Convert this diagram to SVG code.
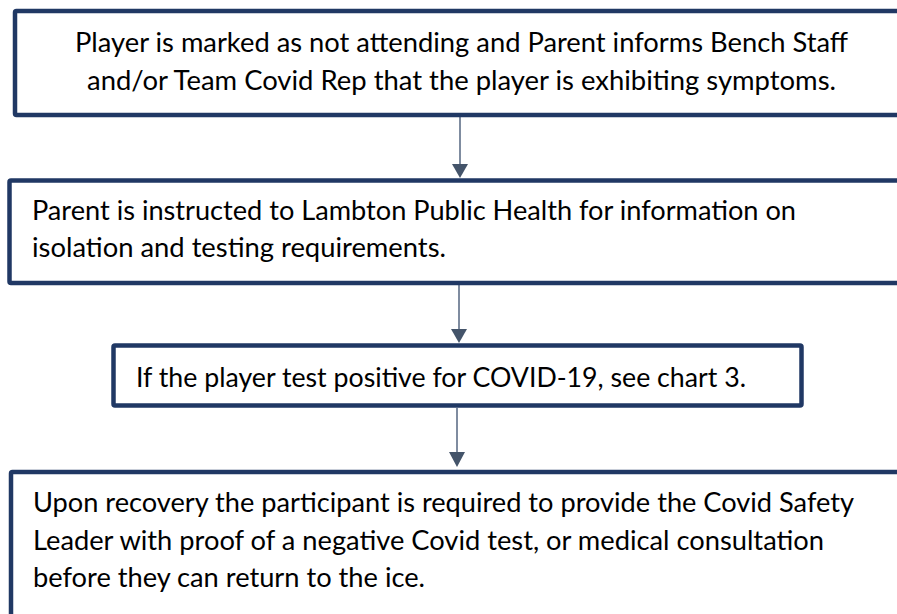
<svg xmlns="http://www.w3.org/2000/svg" width="897" height="614" viewBox="0 0 897 614">
<style>
.box{fill:#ffffff;stroke:#203864;stroke-width:4.5}
.t{font-family:Lato,"Open Sans","Liberation Sans",sans-serif;font-size:26px;fill:#000000}
.ln{stroke:#7f8ca0;stroke-width:2}
.hd{fill:#44546a}
</style>
<rect width="897" height="614" fill="#ffffff"/>
<g id="connectors">
<line class="ln" x1="460" y1="117" x2="460" y2="165"/>
<polygon class="hd" points="452,164 468,164 460,178"/>
<line class="ln" x1="459" y1="285" x2="459" y2="330"/>
<polygon class="hd" points="451,329 467,329 459,343"/>
<line class="ln" x1="457" y1="408" x2="457" y2="453"/>
<polygon class="hd" points="449,452 465,452 457,467"/>
</g>
<g id="node1">
<rect class="box" x="15" y="11" width="900" height="104" rx="1.5"/>
<text class="t" x="75" y="52" textLength="773" lengthAdjust="spacingAndGlyphs">Player is marked as not attending and Parent informs Bench Staff</text>
<text class="t" x="87" y="90" textLength="749" lengthAdjust="spacingAndGlyphs">and/or Team Covid Rep that the player is exhibiting symptoms.</text>
</g>
<g id="node2">
<rect class="box" x="9.5" y="180.5" width="900" height="102.5" rx="1.5"/>
<text class="t" x="32" y="220" textLength="764" lengthAdjust="spacingAndGlyphs">Parent is instructed to Lambton Public Health for information on</text>
<text class="t" x="32" y="257" textLength="414" lengthAdjust="spacingAndGlyphs">isolation and testing requirements.</text>
</g>
<g id="node3">
<rect class="box" x="113.5" y="345.5" width="688" height="60" rx="1.5"/>
<text class="t" x="136" y="387" textLength="610" lengthAdjust="spacingAndGlyphs">If the player test positive for COVID-19, see chart 3.</text>
</g>
<g id="node4">
<rect class="box" x="11" y="472" width="900" height="160" rx="1.5"/>
<text class="t" x="33" y="512" textLength="821" lengthAdjust="spacingAndGlyphs">Upon recovery the participant is required to provide the Covid Safety</text>
<text class="t" x="33" y="550" textLength="791" lengthAdjust="spacingAndGlyphs">Leader with proof of a negative Covid test, or medical consultation</text>
<text class="t" x="33" y="587" textLength="392" lengthAdjust="spacingAndGlyphs">before they can return to the ice.</text>
</g>
</svg>
